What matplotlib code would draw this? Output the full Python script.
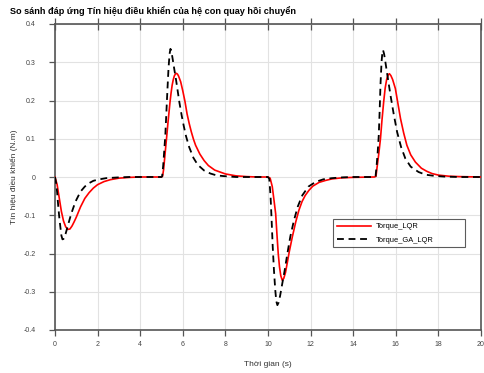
import matplotlib
matplotlib.use("Agg")
import matplotlib.pyplot as plt

plt.rcParams['font.family'] = ['Liberation Sans', 'DejaVu Sans']

title = "So sánh đáp ứng Tín hiệu điều khiển của hệ con quay hồi chuyển"
xlabel = "Thời gian (s)"
ylabel = "Tín hiệu điều khiển (N.m)"
label_lqr = "Torque_LQR"
label_ga = "Torque_GA_LQR"

xticks = [0, 2, 4, 6, 8, 10, 12, 14, 16, 18, 20]
yticks = [-0.4, -0.3, -0.2, -0.1, 0, 0.1, 0.2, 0.3, 0.4]
ytick_labels = ["-0.4", "-0.3", "-0.2", "-0.1", "0", "0.1", "0.2", "0.3", "0.4"]

# Torque_LQR
t_lqr = [0, 0.1, 0.2, 0.3, 0.4, 0.5, 0.6, 0.7, 0.8, 0.9, 1.0, 1.2, 1.4, 1.6, 1.8, 2.0, 2.3, 2.6, 3.0, 3.5, 4.0,
         5.0, 5.05, 5.1, 5.15, 5.2, 5.25, 5.3, 5.35, 5.4, 5.45, 5.5, 5.55, 5.6, 5.65, 5.7, 5.75, 5.8, 5.9, 6.0,
         6.1, 6.2, 6.3, 6.4, 6.5, 6.6, 6.8, 7.0, 7.2, 7.5, 8.0, 8.5, 9.0, 9.5,
         10.0, 10.1, 10.2, 10.28, 10.36, 10.42, 10.48, 10.54, 10.6, 10.67, 10.74, 10.82, 10.9, 11.0, 11.14,
         11.3, 11.45, 11.6, 11.75, 11.92, 12.1, 12.4, 12.7, 13.0, 13.5, 14.0,
         15.0, 15.07, 15.12, 15.2, 15.28, 15.35, 15.43, 15.5, 15.57, 15.64, 15.7, 15.77, 15.85, 15.98, 16.1,
         16.22, 16.37, 16.52, 16.7, 16.92, 17.2, 17.45, 17.7, 18.0, 18.5, 19.0, 20.0]
v_lqr = [0, -0.02, -0.055, -0.09, -0.115, -0.130, -0.137, -0.136, -0.128, -0.117, -0.105, -0.078, -0.056, -0.041,
         -0.029, -0.020, -0.012, -0.007, -0.003, -0.001, 0,
         0, 0.002, 0.02, 0.05, 0.08, 0.109, 0.14, 0.168, 0.196, 0.22, 0.24, 0.254, 0.264, 0.269, 0.271, 0.269,
         0.264, 0.249, 0.225, 0.198, 0.165, 0.140, 0.118, 0.099, 0.083, 0.060, 0.043, 0.030, 0.018, 0.008, 0.003,
         0.001, 0,
         0, -0.003, -0.025, -0.06, -0.096, -0.15, -0.2, -0.235, -0.258, -0.27, -0.265, -0.25, -0.226, -0.195,
         -0.157, -0.118, -0.087, -0.064, -0.048, -0.035, -0.024, -0.014, -0.009, -0.005, -0.002, -0.001,
         0, 0.002, 0.025, 0.06, 0.1, 0.148, 0.196, 0.232, 0.255, 0.267, 0.270, 0.265, 0.255, 0.231, 0.192,
         0.153, 0.115, 0.083, 0.058, 0.039, 0.023, 0.015, 0.009, 0.005, 0.002, 0.001, 0]

# Torque_GA_LQR
t_ga = [0, 0.05, 0.1, 0.15, 0.2, 0.25, 0.3, 0.35, 0.4, 0.5, 0.6, 0.7, 0.8, 0.9, 1.0, 1.2, 1.4, 1.6, 1.8, 2.0,
        2.4, 3.0, 3.5,
        5.0, 5.03, 5.08, 5.13, 5.18, 5.23, 5.28, 5.33, 5.38, 5.42, 5.46, 5.52, 5.6, 5.68, 5.76, 5.84, 5.95,
        6.05, 6.15, 6.3, 6.5, 6.7, 7.0, 7.3, 7.6, 8.0, 8.5,
        10.0, 10.06, 10.12, 10.17, 10.22, 10.28, 10.34, 10.39, 10.44, 10.5, 10.57, 10.64, 10.78, 10.91, 11.05,
        11.22, 11.4, 11.61, 11.9, 12.23, 12.6, 13.0, 13.5, 14.0,
        15.0, 15.05, 15.1, 15.15, 15.2, 15.24, 15.28, 15.33, 15.37, 15.4, 15.45, 15.51, 15.6, 15.75, 15.9,
        16.06, 16.25, 16.45, 16.7, 17.07, 17.4, 17.8, 18.3, 19.0, 20.0]
v_ga = [0, -0.015, -0.04, -0.075, -0.105, -0.13, -0.153, -0.163, -0.162, -0.148, -0.128, -0.108, -0.090, -0.074,
        -0.060, -0.038, -0.025, -0.016, -0.010, -0.007, -0.003, -0.001, 0,
        0, 0.002, 0.03, 0.07, 0.11, 0.17, 0.23, 0.285, 0.322, 0.335, 0.33, 0.31, 0.282, 0.255, 0.225, 0.195,
        0.16, 0.132, 0.107, 0.078, 0.050, 0.032, 0.017, 0.009, 0.004, 0.002, 0,
        0, -0.005, -0.05, -0.113, -0.18, -0.244, -0.295, -0.325, -0.335, -0.328, -0.31, -0.288, -0.245, -0.2,
        -0.155, -0.113, -0.077, -0.048, -0.025, -0.013, -0.006, -0.003, -0.001, 0,
        0, 0.002, 0.03, 0.065, 0.109, 0.17, 0.24, 0.3, 0.326, 0.332, 0.322, 0.301, 0.268, 0.214, 0.165,
        0.118, 0.078, 0.048, 0.027, 0.013, 0.006, 0.003, 0.001, 0, 0]

fig = plt.figure(figsize=(4.84, 3.73), dpi=100)
ax = fig.add_axes([55 / 484, 1 - 330 / 373, 426 / 484, 306 / 373])

ax.plot(t_lqr, v_lqr, color="#ff0000", lw=1.2, label=label_lqr, zorder=3)
ax.plot(t_ga, v_ga, color="black", lw=1.3, ls=(0, (3.8, 2.6)), label=label_ga, zorder=3)

ax.set_xlim(0, 20)
ax.set_ylim(-0.4, 0.4)
ax.set_xticks(xticks)
ax.set_yticks(yticks)
ax.set_yticklabels(ytick_labels)
ax.grid(True, color="#e2e2e2", lw=0.8, zorder=0)
ax.set_axisbelow(True)

for s in ax.spines.values():
    s.set_color("#555555")
    s.set_linewidth(1.2)

ax.tick_params(axis="both", labelsize=5, colors="#555555", labelcolor="#444444", width=0.9)
ax.tick_params(axis="x", direction="out", length=4, pad=4, top=True)
ax.tick_params(axis="y", direction="out", length=4, pad=10)
for tk in ax.xaxis.get_major_ticks():
    tk.tick2line.set_marker("|")
    tk.tick2line.set_markersize(9)
    tk.tick2line.set_markeredgewidth(0.9)
    tk.tick2line.set_color("#444444")

ax.set_xlabel(xlabel, fontsize=6, color="#333333", labelpad=9)
ax.set_ylabel(ylabel, fontsize=6, color="#333333", labelpad=4)

fig.text(10 / 484, 1 - 11 / 373, title, fontsize=6.6, fontweight="bold", va="center", ha="left")

leg = ax.legend(loc="lower left", bbox_to_anchor=(0.644, 0.258, 0.328, 0.075), mode="expand",
                fontsize=5.4, frameon=True, fancybox=False, handlelength=4.6, borderpad=0.5,
                labelspacing=0.8, handletextpad=0.6)
leg.get_frame().set_edgecolor("#333333")
leg.get_frame().set_linewidth(0.8)

fig.savefig("out.png", dpi=100)
